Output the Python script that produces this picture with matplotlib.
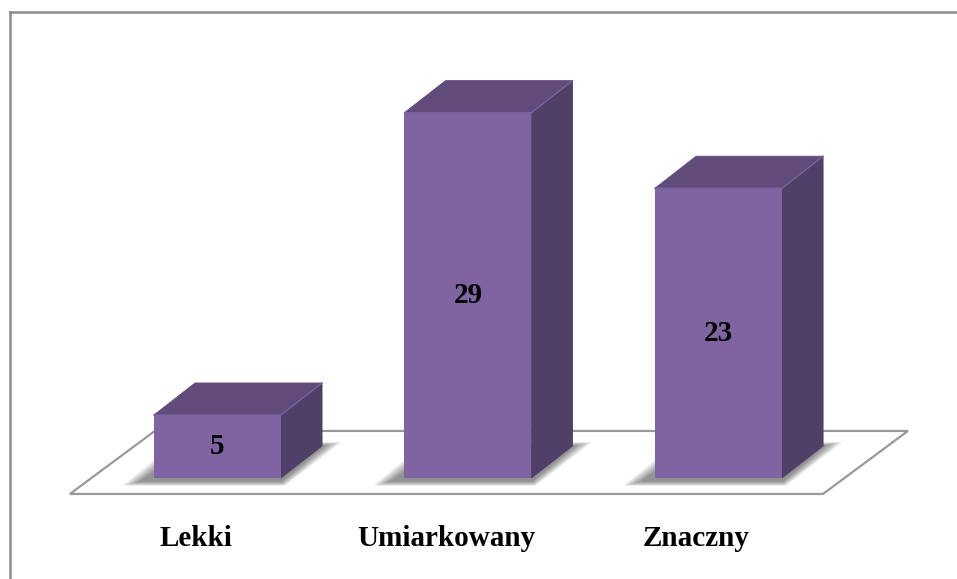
import matplotlib
matplotlib.use('Agg')
import matplotlib.pyplot as plt
from matplotlib.patches import Polygon
from matplotlib.lines import Line2D

categories = ['Lekki', 'Umiarkowany', 'Znaczny']
values = [5, 29, 23]

# kolory scian slupka
front_col = '#8064a2'
top_col = '#604b7b'
side_col = '#504068'

bar_w = 0.507
depth_x, depth_y = 0.164, 2.54
px_x, px_y = 250.5, 12.6   # pikseli na jednostke osi

fig = plt.figure(figsize=(9.57, 5.79), dpi=100)
ax = fig.add_axes([0, 0, 1, 1])
ax.set_xlim(-0.868, 2.952)
ax.set_ylim(-8.02, 37.94)
ax.axis('off')

# podloga
fl_y0, fl_y1 = -1.27, 3.73
fl_x0, fl_x1 = -0.589, 2.417
fl_dx = 0.339
ax.add_patch(Polygon([(fl_x0, fl_y0), (fl_x1, fl_y0), (fl_x1 + fl_dx, fl_y1),
                      (fl_x0 + fl_dx, fl_y1)], closed=True, facecolor='white',
                     edgecolor='#999999', lw=1.6, zorder=1))

for i, (cat, v) in enumerate(zip(categories, values)):
    x0, x1 = i - bar_w / 2, i + bar_w / 2

    # rozmyty cien pod slupkiem
    for k in range(12):
        m = 20 - k * 1.6
        mx, my = m / px_x, m / px_y
        ax.add_patch(Polygon([(x0 - mx - 12 / px_x, -0.25 * my - 3 / px_y),
                              (x1 + 0.2 * mx, -0.25 * my - 3 / px_y),
                              (x1 + depth_x + mx, depth_y + 0.2 * my),
                              (x0 + depth_x - mx, depth_y + 0.2 * my)],
                             closed=True, facecolor='black', edgecolor='none',
                             alpha=0.045, zorder=2))

    front = [(x0, 0), (x1, 0), (x1, v), (x0, v)]
    top = [(x0, v), (x1, v), (x1 + depth_x, v + depth_y), (x0 + depth_x, v + depth_y)]
    side = [(x1, 0), (x1 + depth_x, depth_y), (x1 + depth_x, v + depth_y), (x1, v)]
    ax.add_patch(Polygon(side, closed=True, facecolor=side_col, edgecolor=side_col,
                         lw=0.6, zorder=3))
    ax.add_patch(Polygon(top, closed=True, facecolor=top_col, edgecolor=top_col,
                         lw=0.6, zorder=3))
    ax.add_patch(Polygon(front, closed=True, facecolor=front_col, edgecolor='none', zorder=4))
    # jasniejsze krawedzie
    ax.plot([x0, x1, x1 + depth_x], [v, v, v + depth_y], color='#7a62a0', lw=1.0, zorder=5)

    ax.text(i, v / 2, str(v), ha='center', va='center', fontsize=21,
            fontweight='bold', family='Liberation Serif', zorder=6)
    ax.text(i - 0.088, -5.40, cat, ha='center', va='baseline', fontsize=21,
            fontweight='bold', family='Liberation Serif', zorder=6)

# ramka wykresu (lewa i gorna krawedz)
fig.add_artist(Line2D([10 / 957, 10 / 957], [0, 1 - 11.5 / 579],
                      transform=fig.transFigure, color='#8c8c8c', lw=1.8))
fig.add_artist(Line2D([10 / 957, 1], [1 - 11.5 / 579, 1 - 11.5 / 579],
                      transform=fig.transFigure, color='#8c8c8c', lw=1.8))

fig.savefig('out.png', dpi=100)
